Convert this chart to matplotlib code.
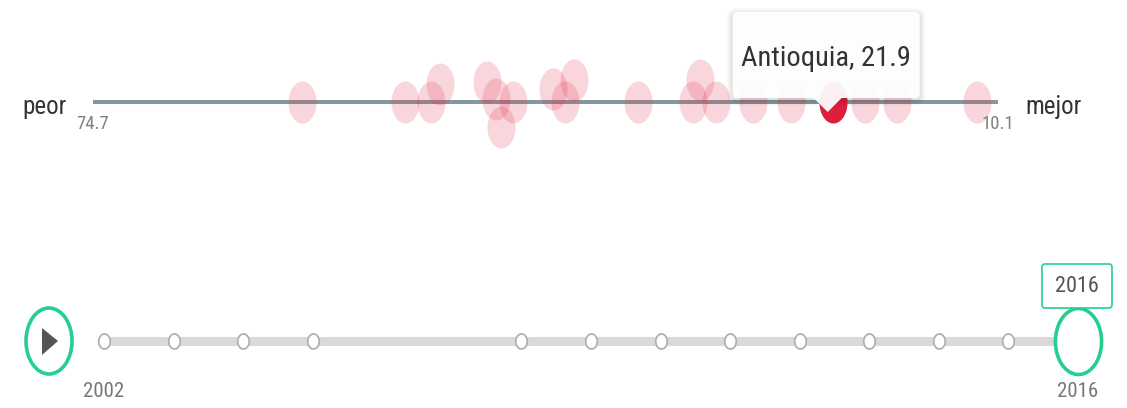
import numpy as np
import matplotlib
matplotlib.use("Agg")
import matplotlib.pyplot as plt
from matplotlib.path import Path
from matplotlib.markers import MarkerStyle
from matplotlib.patches import FancyBboxPatch, Ellipse, Polygon

plt.rcParams['font.family'] = ['Roboto Condensed', 'Open Sans', 'DejaVu Sans']

# scores per departamento, 2016 (lower = better)
values = [59.8, 52.4, 50.6, 49.9, 46.6, 45.9, 45.6, 44.7, 41.9, 41.0, 40.4,
          35.8, 31.9, 31.4, 30.2, 27.6, 24.9, 21.9, 19.6, 17.3, 11.6]
# swarm dodge (px above the line) so the bubbles don't pile up
dodge = [0, 0, 0, 18, 20, 3, -25, 0, 13, 0, 22,
         0, 0, 22, 0, 0, 0, 0, 0, 0, 0]
worst, best = 74.7, 10.1
highlight_name = "Antioquia"
highlight_value = 21.9

years = [2002, 2003, 2004, 2005, 2008, 2009, 2010, 2011, 2012, 2013, 2014, 2015, 2016]
current_year = 2016

GREEN = '#25d08f'
W, H = 1127, 408


def oval(ratio):
    t = np.linspace(0, 2 * np.pi, 65)
    verts = np.column_stack([np.cos(t) / ratio, np.sin(t)])
    return MarkerStyle(Path(verts, closed=True))


def msize(h_px):
    # marker height in px -> scatter size in pt^2
    return (h_px * 0.72) ** 2


fig = plt.figure(figsize=(W / 100, H / 100), dpi=100)

# --- ranking line ---
ax = fig.add_axes([93 / W, 248 / H, 905 / W, 160 / H])
ax.set_xlim(worst, best)
ax.set_ylim(-58, 102)
ax.axis('off')
ax.plot([worst, best], [0, 0], color='#85989f', lw=2.9, solid_capstyle='butt', zorder=1)
ax.scatter(values, dodge, s=msize(42), marker=oval(1.5), color='#e3324d', alpha=0.2,
           linewidths=0, zorder=2, clip_on=False)
ax.scatter([highlight_value], [0], s=msize(42), marker=oval(1.5), color='#dc1f3a',
           linewidths=0, zorder=3, clip_on=False)

ax.annotate('peor', xy=(worst, 0), xytext=(-26, -5), textcoords='offset pixels',
            ha='right', va='center', fontsize=18, color='#333333')
ax.annotate('mejor', xy=(best, 0), xytext=(27, -5), textcoords='offset pixels',
            ha='left', va='center', fontsize=18, color='#333333')
ax.annotate(f'{worst}', xy=(worst, 0), xytext=(0, -13), textcoords='offset pixels',
            ha='center', va='top', fontsize=13.5, color='#808080')
ax.annotate(f'{best}', xy=(best, 0), xytext=(0, -13), textcoords='offset pixels',
            ha='center', va='top', fontsize=13.5, color='#808080')

# --- year slider ---
ax2 = fig.add_axes([104 / W, 0, 974 / W, 148 / H])
ax2.set_xlim(years[0], years[-1])
ax2.set_ylim(-67, 81)
ax2.axis('off')
ax2.plot([years[0], years[-1]], [0, 0], color='#d9d9d9', lw=6.5, solid_capstyle='butt', zorder=1)
others = [y for y in years if y != current_year]
ax2.scatter(others, np.zeros(len(others)), s=msize(15), marker=oval(1.3), facecolor='white',
            edgecolor='#b0b0b0', linewidths=1.3, zorder=3, clip_on=False)
ax2.scatter([current_year], [0], s=msize(66), marker=oval(1.43), facecolor='white',
            edgecolor=GREEN, linewidths=2.6, zorder=4, clip_on=False)
for yr in (years[0], years[-1]):
    ax2.annotate(str(yr), xy=(yr, 0), xytext=(0, -41), textcoords='offset pixels',
                 ha='center', va='top', fontsize=15, color='#777777')

# --- overlay for tooltip / controls (pixel coords, y down) ---
ov = fig.add_axes([0, 0, 1, 1], zorder=10)
ov.set_xlim(0, W)
ov.set_ylim(H, 0)
ov.axis('off')


def to_ov(axis, x, y):
    disp = axis.transData.transform((x, y))
    return ov.transData.inverted().transform(disp)


# tooltip
hx, hy = to_ov(ax, highlight_value, 0)
bx, by, bw, bh = hx - 100, hy - 90, 187, 86
for k, a in [(6, 0.025), (4, 0.035), (2, 0.05)]:
    ov.add_patch(FancyBboxPatch((bx - k, by - k + 2), bw + 2 * k, bh + 2 * k,
                                boxstyle=f'round,pad=0,rounding_size={4 + k}',
                                fc='black', ec='none', alpha=a))
ov.add_patch(FancyBboxPatch((bx, by), bw, bh, boxstyle='round,pad=0,rounding_size=4',
                            fc='white', ec='none', alpha=0.94))
px = hx - 5
ov.add_patch(Polygon([(px - 14, by + bh), (px, by + bh + 14), (px + 14, by + bh)],
                     closed=True, fc='white', ec='none', alpha=0.94))
ov.text(hx - 7, by + 47, f'{highlight_name}, {highlight_value}', ha='center', va='center',
        fontsize=20.5, color='#333333')

# play button
sx, sy = to_ov(ax2, years[0], 0)
ov.add_patch(Ellipse((sx - 55, sy), 46, 66, fc='white', ec=GREEN, lw=2.6))
ov.add_patch(Polygon([(sx - 62, sy - 13), (sx - 62, sy + 14), (sx - 46, sy)],
                     closed=True, fc='#555555', ec='none'))

# current year label box
kx, ky = to_ov(ax2, current_year, 0)
ov.add_patch(FancyBboxPatch((kx - 36, ky - 77), 70, 44, boxstyle='round,pad=0,rounding_size=3',
                            fc='white', ec=GREEN, lw=1.2))
ov.text(kx - 1, ky - 55, str(current_year), ha='center', va='center', fontsize=16, color='#555555')

fig.savefig('out.png', dpi=100, facecolor='white')
